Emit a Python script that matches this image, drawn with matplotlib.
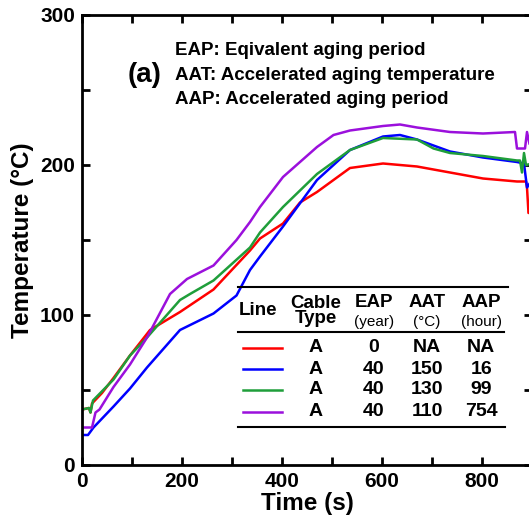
import matplotlib
matplotlib.use('Agg')
import matplotlib.pyplot as plt
from matplotlib.ticker import MultipleLocator

plt.rcParams['font.family'] = ['Liberation Sans', 'DejaVu Sans']
plt.rcParams['font.weight'] = 'bold'

# temperature traces (time in s, temperature in degC)
t_red = [0, 14, 17, 20, 40, 63, 96, 136, 196, 263, 336, 356, 402, 436, 470,
         536, 602, 670, 736, 802, 870, 888, 890, 893, 900]
T_red = [37, 38, 35, 41, 48, 58, 73, 90, 102, 117, 143, 151, 161, 175, 182,
         198, 201, 199, 195, 191, 189, 189, 185, 168, 170]

t_blue = [0, 12, 23, 63, 96, 130, 196, 263, 309, 336, 356, 402, 470, 536,
          602, 636, 670, 736, 802, 870, 884, 890, 900]
T_blue = [20, 20, 25, 39, 51, 65, 90, 101, 113, 130, 139, 159, 190, 210,
          219, 220, 217, 209, 205, 202, 201, 185, 190]

t_green = [0, 14, 17, 22, 63, 96, 130, 196, 216, 263, 336, 356, 402, 470,
           536, 602, 670, 703, 736, 802, 870, 876, 880, 884, 888, 900]
T_green = [37, 38, 35, 43, 57, 73, 85, 110, 114, 123, 145, 155, 172, 194,
           210, 218, 217, 211, 208, 206, 203, 203, 195, 208, 200, 201]

t_purple = [0, 20, 27, 35, 63, 96, 130, 176, 210, 263, 309, 336, 356, 402,
            470, 503, 536, 602, 636, 670, 736, 802, 866, 870, 886, 890, 895, 900]
T_purple = [25, 25, 35, 37, 52, 67, 85, 114, 124, 133, 150, 162, 172, 192,
            212, 220, 223, 226, 227, 225, 222, 221, 222, 211, 211, 222, 214, 214]

colors = ['#ff0000', '#0000ff', '#1f9e3a', '#9b10dc']
cable_type = ['A', 'A', 'A', 'A']
eap = ['0', '40', '40', '40']
aat = ['NA', '150', '130', '110']
aap = ['NA', '16', '99', '754']

fig = plt.figure(figsize=(5.29, 5.27), dpi=100)
ax = fig.add_axes([82 / 529, 62 / 527, 450 / 529, 450 / 527])

for t, T, c in zip([t_red, t_blue, t_green, t_purple],
                   [T_red, T_blue, T_green, T_purple], colors):
    ax.plot(t, T, color=c, lw=1.8)

ax.set_xlim(0, 900)
ax.set_ylim(0, 300)
ax.xaxis.set_major_locator(MultipleLocator(200))
ax.xaxis.set_minor_locator(MultipleLocator(100))
ax.yaxis.set_major_locator(MultipleLocator(100))
ax.yaxis.set_minor_locator(MultipleLocator(50))
ax.tick_params(which='both', direction='in', top=True, right=True,
               width=2, length=6, labelsize=15, pad=5)
for s in ax.spines.values():
    s.set_linewidth(2)
ax.set_xlabel('Time (s)', fontsize=17.5, fontweight='bold', labelpad=1)
ax.set_ylabel('Temperature (\u00b0C)', fontsize=17.5, fontweight='bold',
              labelpad=4)

tr = ax.transAxes
ax.text(0.138, 0.867, '(a)', transform=tr, fontsize=20, fontweight='bold',
        ha='center', va='center')
notes = ['EAP: Eqivalent aging period', 'AAT: Accelerated aging temperature',
         'AAP: Accelerated aging period']
for y, s in zip([0.922, 0.866, 0.813], notes):
    ax.text(0.207, y, s, transform=tr, fontsize=13.5, fontweight='bold',
            ha='left', va='center')

# table drawn as a legend
ax.plot([0.347, 0.947], [0.396, 0.396], transform=tr, color='k', lw=1.5)
ax.plot([0.347, 0.938], [0.296, 0.296], transform=tr, color='k', lw=1.5)
ax.plot([0.347, 0.94], [0.084, 0.084], transform=tr, color='k', lw=1.5)

cols = [0.52, 0.649, 0.767, 0.887]
ax.text(0.391, 0.343, 'Line', transform=tr, fontsize=13.5, fontweight='bold',
        ha='center', va='center')
ax.text(cols[0], 0.343, 'Cable\nType', transform=tr, fontsize=13.5,
        fontweight='bold', ha='center', va='center', linespacing=0.85)
for x, h, u in zip(cols[1:], ['EAP', 'AAT', 'AAP'],
                   ['(year)', '(\u00b0C)', '(hour)']):
    ax.text(x, 0.362, h, transform=tr, fontsize=13.5, fontweight='bold',
            ha='center', va='center')
    ax.text(x, 0.318, u, transform=tr, fontsize=11, fontweight='normal',
            ha='center', va='center')

rows_y = [0.26, 0.2133, 0.1667, 0.1178]
for i, y in enumerate(rows_y):
    ax.plot([0.358, 0.444], [y, y], transform=tr, color=colors[i], lw=1.8)
    for x, s in zip(cols, [cable_type[i], eap[i], aat[i], aap[i]]):
        ax.text(x, y, s, transform=tr, fontsize=14, fontweight='bold',
                ha='center', va='center')

fig.savefig('out.png', dpi=100)
